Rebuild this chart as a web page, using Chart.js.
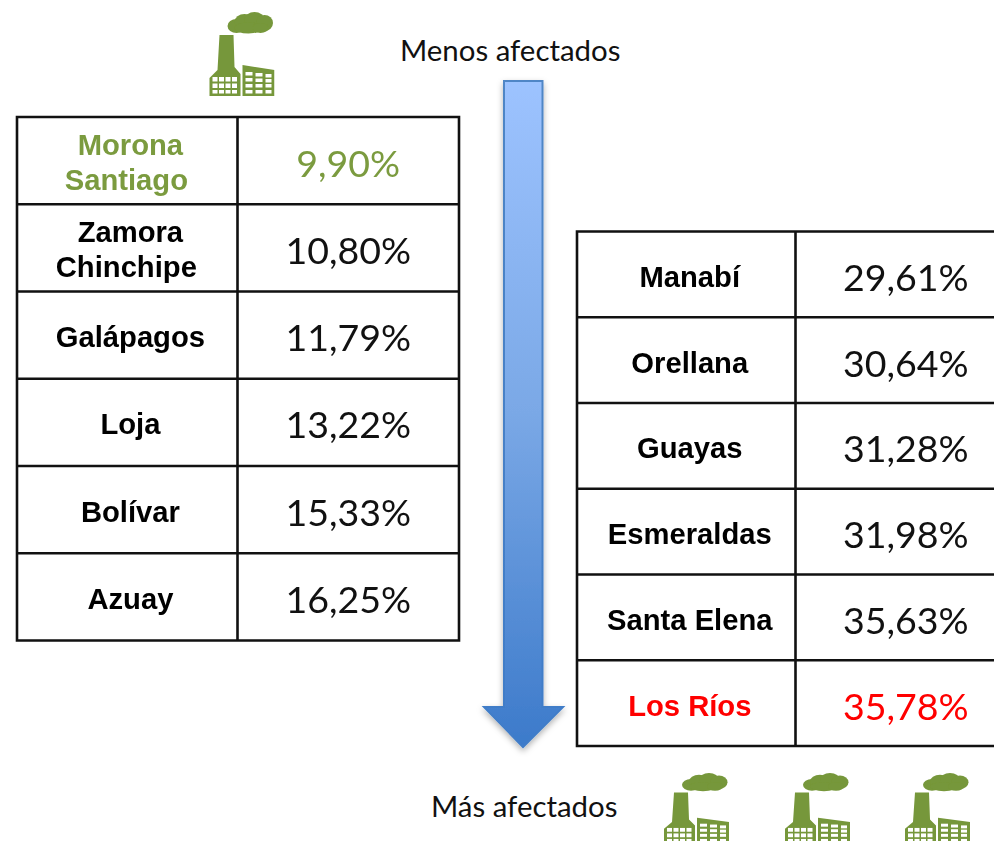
<!DOCTYPE html>
<html>
<head>
<meta charset="utf-8">
<title>Menos y más afectados</title>
<script src="https://cdn.jsdelivr.net/npm/chart.js@4"></script>
<style>
html, body { margin: 0; padding: 0; background: #fff; width: 994px; height: 841px; overflow: hidden; }
body { position: relative; }
canvas { position: absolute; }
.note { position: absolute; font-family: Lato, sans-serif; font-size: 29.4px; line-height: 34px; color: #111; white-space: nowrap; }
svg { position: absolute; left: 0; top: 0; }
</style>
</head>
<body>
<svg width="994" height="841">
  <defs>
    <linearGradient id="arrowFill" gradientUnits="userSpaceOnUse" x1="0" y1="80" x2="0" y2="747">
      <stop offset="0" stop-color="#9dc3ff"/>
      <stop offset="0.5" stop-color="#7aa8e6"/>
      <stop offset="1" stop-color="#3c7aca"/>
    </linearGradient>
    <linearGradient id="arrowLine" gradientUnits="userSpaceOnUse" x1="0" y1="80" x2="0" y2="747">
      <stop offset="0" stop-color="#4f86c6"/>
      <stop offset="1" stop-color="#3f7cc8"/>
    </linearGradient>
    <filter id="soft" x="-10%" y="-10%" width="120%" height="120%"><feGaussianBlur stdDeviation="0.5"/></filter>
    <symbol id="factory" viewBox="0 0 66 84" preserveAspectRatio="none">
      <g filter="url(#soft)">
        <g fill="#76973a">
          <ellipse cx="28" cy="14" rx="9" ry="7"/>
          <ellipse cx="36" cy="10" rx="10" ry="8"/>
          <ellipse cx="46" cy="8" rx="10" ry="8"/>
          <ellipse cx="56" cy="11" rx="8.500" ry="8"/>
          <ellipse cx="40" cy="16" rx="14" ry="5.500"/>
          <ellipse cx="52" cy="16" rx="8" ry="5"/>
          <path d="M11 23H25L26 55L32 62V84H1V66L9 58Z"/>
          <path d="M34 53L66 58V84H34Z"/>
        </g>
        <g fill="#fff">
          <rect x="4" y="65" width="5" height="4.500"/><rect x="10.500" y="65" width="5" height="4.500"/><rect x="17" y="65" width="5" height="4.500"/><rect x="23.500" y="65" width="5" height="4.500"/>
          <rect x="4" y="71.500" width="5" height="4.500"/><rect x="10.500" y="71.500" width="5" height="4.500"/><rect x="17" y="71.500" width="5" height="4.500"/><rect x="23.500" y="71.500" width="5" height="4.500"/>
          <rect x="4" y="78" width="5" height="3.500"/><rect x="10.500" y="78" width="5" height="3.500"/><rect x="17" y="78" width="5" height="3.500"/><rect x="23.500" y="78" width="5" height="3.500"/>
          <rect x="37" y="60" width="7" height="3.500"/><rect x="47" y="61" width="7" height="3.500"/><rect x="57" y="62" width="6" height="3.500"/>
          <rect x="37" y="66" width="7" height="3.500"/><rect x="47" y="66.500" width="7" height="3.500"/><rect x="57" y="67" width="6" height="3.500"/>
          <rect x="37" y="72" width="7" height="3.500"/><rect x="47" y="72" width="7" height="3.500"/><rect x="57" y="72" width="6" height="3.500"/>
          <rect x="37" y="78" width="7" height="3.500"/><rect x="47" y="78" width="7" height="3.500"/><rect x="57" y="78" width="6" height="3.500"/>
        </g>
      </g>
    </symbol>
    <filter id="shade" x="-30%" y="-5%" width="160%" height="110%"><feDropShadow dx="0" dy="3" stdDeviation="3" flood-color="#000" flood-opacity="0.3"/></filter>
  </defs>
  <path d="M504 81H542.500V707H563L523 747L484 707H504Z" fill="url(#arrowFill)" stroke="url(#arrowLine)" stroke-width="2" stroke-linejoin="miter" filter="url(#shade)"/>
  <use href="#factory" x="208.500" y="12" width="66" height="84"/>
  <use href="#factory" x="663" y="773" width="66" height="71"/>
  <use href="#factory" x="784" y="773" width="66" height="71"/>
  <use href="#factory" x="904" y="773" width="66" height="71"/>
</svg>
<div class="note" style="left:400px;top:33px">Menos afectados</div>
<div class="note" style="left:431px;top:789px">Más afectados</div>
<canvas id="leftTable" width="446" height="532" style="left:15px;top:115px"></canvas>
<canvas id="rightTable" width="441" height="523" style="left:575px;top:230px"></canvas>
<script>
const leftNames = [['Morona', 'Santiago '], ['Zamora', 'Chinchipe '], 'Galápagos', 'Loja', 'Bolívar', 'Azuay'];
const leftValues = [9.90, 10.80, 11.79, 13.22, 15.33, 16.25];
const leftColors = ['#7b9b3f', '#000', '#000', '#000', '#000', '#000'];

const rightNames = ['Manabí', 'Orellana', 'Guayas', 'Esmeraldas', 'Santa Elena', 'Los Ríos'];
const rightValues = [29.61, 30.64, 31.28, 31.98, 35.63, 35.78];
const rightColors = ['#000', '#000', '#000', '#000', '#000', '#ff0000'];

// table rules + the percentage text in the second column
const tablePlugin = {
    id: 'tablePlugin',
    afterDraw: function(chart) {
        var ctx = chart.ctx;
        var area = chart.chartArea;
        var meta = chart.getDatasetMeta(0);
        var n = chart.data.labels.length;
        var left = 2;
        var opts = chart.options.plugins.tablePlugin;
        // the text sits a little under the middle of its row, so the rules go up by this much
        var up = opts.ruleShift;
        var top = area.top - up;
        var bottom = area.bottom - up;

        ctx.save();
        ctx.strokeStyle = '#111';
        ctx.lineWidth = 2.6;
        ctx.beginPath();
        for (var i = 0; i <= n; i++) {
            var py = top + (bottom - top) * i / n;
            ctx.moveTo(left - 1.3, py);
            ctx.lineTo(area.right + 1.3, py);
        }
        ctx.moveTo(left, top);
        ctx.lineTo(left, bottom);
        ctx.moveTo(area.left, top);
        ctx.lineTo(area.left, bottom);
        ctx.moveTo(area.right, top);
        ctx.lineTo(area.right, bottom);
        ctx.stroke();

        ctx.font = '37.5px Lato';
        ctx.textAlign = 'center';
        ctx.textBaseline = 'middle';
        for (var j = 0; j < n; j++) {
            ctx.fillStyle = opts.colors[j] === '#000' ? '#111' : opts.colors[j];
            var v = chart.data.datasets[0].data[j];
            ctx.fillText(v.toFixed(2).replace('.', ',') + '%', (area.left + area.right) / 2, meta.data[j].y);
        }
        ctx.restore();
    }
};

function makeTable(id, names, values, colors, axisWidth, tickPad, ruleShift, padding) {
    return new Chart(document.getElementById(id), {
        type: 'bar',
        data: {
            labels: names,
            datasets: [{ data: values, backgroundColor: 'transparent', borderWidth: 0 }]
        },
        plugins: [tablePlugin],
        options: {
            indexAxis: 'y',
            responsive: false,
            animation: false,
            layout: { padding: padding },
            plugins: {
                legend: { display: false },
                tooltip: { enabled: false },
                tablePlugin: { colors: colors, ruleShift: ruleShift }
            },
            scales: {
                x: { display: false, min: 0, max: 40 },
                y: {
                    afterFit: function(scale) {
                        scale.width = axisWidth;
                        // tall first/last labels must not eat into the table height
                        scale.paddingTop = 0;
                        scale.paddingBottom = 0;
                    },
                    border: { display: false },
                    grid: { display: false, drawTicks: false },
                    ticks: {
                        crossAlign: 'center',
                        padding: tickPad,
                        autoSkip: false,
                        color: function(c) { return colors[c.index]; },
                        font: { family: 'Liberation Sans', size: 29.2, weight: 'bold', lineHeight: 1.2 }
                    }
                }
            }
        }
    });
}

makeTable('leftTable', leftNames, leftValues, leftColors, 222.5, 32.5, 4, { top: 6, bottom: 2.5, right: 2 });
makeTable('rightTable', rightNames, rightValues, rightColors, 220.5, 23, 4.5, { top: 6, bottom: 2.5, right: 0 });
</script>
</body>
</html>
